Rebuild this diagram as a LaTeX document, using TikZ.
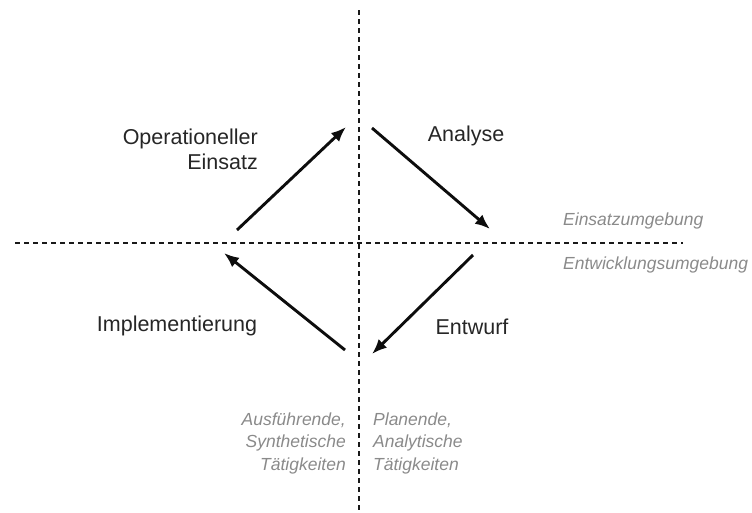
\documentclass[tikz,border=0pt]{standalone}
\usepackage{fontspec}
\setmainfont{Liberation Sans}
\usetikzlibrary{arrows.meta}
\definecolor{notegray}{HTML}{8A8A8A}
\begin{document}
\begin{tikzpicture}[x=1pt,y=-1pt,
  axis/.style={line width=1.1pt, dash pattern=on 5pt off 4pt, black!90},
  flow/.style={line width=2.9pt, -{Latex[length=15pt,width=12pt]}, black!95},
  phase/.style={font=\fontsize{21.5}{25}\selectfont, text=black!85, inner sep=0pt},
  note/.style={font=\fontsize{17.5}{22.5}\selectfont\itshape, text=notegray, inner sep=0pt}]
\useasboundingbox (0,0) rectangle (752,512);
% quadrant axes
\coordinate (vtop) at (359,10);
\coordinate (vbot) at (359,512);
\coordinate (hleft) at (15,243);
\coordinate (hright) at (683,243);
\draw[axis] (vtop) -- (vbot);
\draw[axis] (hleft) -- (hright);
% arrow end points
\coordinate (a1) at (237,230);
\coordinate (a2) at (346,127);
\coordinate (b1) at (372,128);
\coordinate (b2) at (490,229);
\coordinate (c1) at (473,255);
\coordinate (c2) at (372,354);
\coordinate (d1) at (345,350);
\coordinate (d2) at (224,253);
\draw[flow] (a1) -- (a2);
\draw[flow] (b1) -- (b2);
\draw[flow] (c1) -- (c2);
\draw[flow] (d1) -- (d2);
% phase labels
\node[phase, anchor=east, align=right] (op) at (258,149) {Operationeller\\Einsatz};
\node[phase] (an) at (466,136) {Analyse};
\node[phase] (en) at (472,327) {Entwurf};
\node[phase] (im) at (177,326) {Implementierung};
% environment labels
\node[note, anchor=west] (eu) at (563,221) {Einsatzumgebung};
\node[note, anchor=west] (ew) at (563,265) {Entwicklungsumgebung};
% activity labels
\node[note, anchor=east, align=right] (ls) at (346,443) {Ausführende,\\Synthetische\\Tätigkeiten};
\node[note, anchor=west, align=left] (rs) at (373,443) {Planende,\\Analytische\\Tätigkeiten};
\end{tikzpicture}
\end{document}
